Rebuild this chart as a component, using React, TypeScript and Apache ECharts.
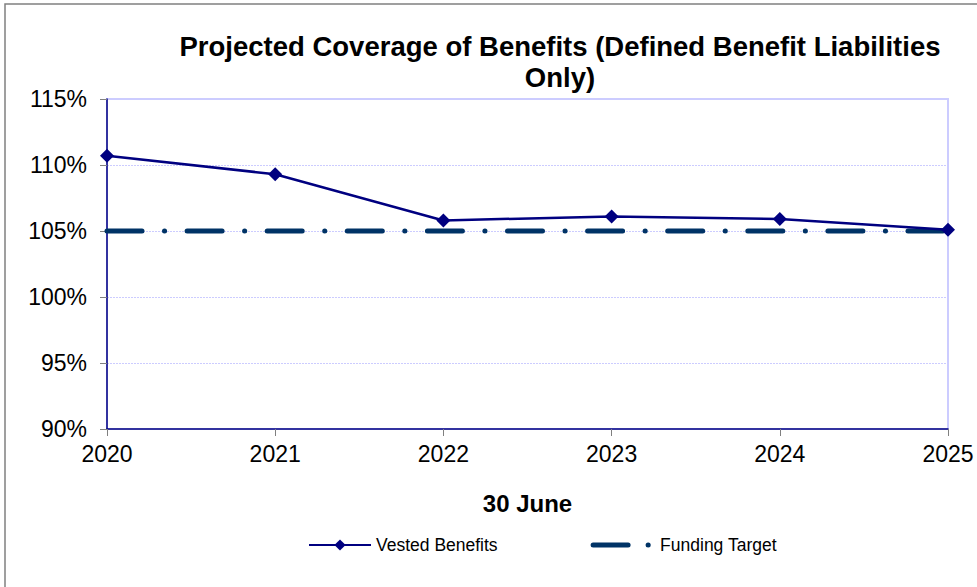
import React, { useEffect, useRef } from "react";
import * as echarts from "echarts";

const years = ["2020", "2021", "2022", "2023", "2024", "2025"];
const vestedBenefits = [110.7, 109.3, 105.8, 106.1, 105.9, 105.1];
const fundingTarget = [105, 105, 105, 105, 105, 105];
const yTicks = { min: 90, max: 115, interval: 5 };

const FONT = "'Liberation Sans', Arial, sans-serif";

export default function App() {
  const ref = useRef<HTMLDivElement>(null);
  useEffect(() => {
    document.body.style.margin = "0";
    const chart = echarts.init(ref.current!, null, { renderer: "svg" });
    chart.setOption({
      animation: false,
      backgroundColor: "#ffffff",
      textStyle: { fontFamily: FONT },
      title: {
        text: "Projected Coverage of Benefits (Defined Benefit Liabilities\nOnly)",
        left: 560,
        top: 31,
        padding: 0,
        textAlign: "center",
        textStyle: {
          fontFamily: FONT,
          fontSize: 27.5,
          fontWeight: "bold",
          color: "#000",
          lineHeight: 31,
          align: "center",
        },
      },
      graphic: [
        {
          type: "rect",
          shape: { x: 5, y: 4, width: 1000, height: 1000 },
          style: { fill: "none", stroke: "#808080", lineWidth: 1.5 },
          z: 100,
          silent: true,
        },
      ],
      grid: { left: 107, right: 29, top: 99, bottom: 158, show: true, borderColor: "#ccccff", borderWidth: 2, backgroundColor: "transparent" },
      legend: {
        left: 303,
        top: 531,
        itemWidth: 62,
        itemHeight: 14,
        itemGap: 93,
        textStyle: { fontFamily: FONT, fontSize: 17.5, color: "#000" },
        data: [
          { name: "Vested Benefits" },
          {
            name: "Funding Target",
            itemStyle: { opacity: 0 },
            lineStyle: { width: 5, color: "#003366", type: [35, 20, 0.1, 20], cap: "round" },
          },
        ],
      },
      xAxis: {
        type: "category",
        data: years,
        boundaryGap: false,
        name: "30 June",
        nameLocation: "middle",
        nameGap: 62,
        nameTextStyle: { fontFamily: FONT, fontSize: 24, fontWeight: "bold", color: "#000" },
        axisLine: { lineStyle: { color: "#000080", width: 1.5 } },
        axisTick: { show: true, length: 7, inside: false, lineStyle: { color: "#808080" } },
        axisLabel: { fontFamily: FONT, fontSize: 23, color: "#000", margin: 13 },
        splitLine: { show: false },
      },
      yAxis: {
        type: "value",
        min: yTicks.min,
        max: yTicks.max,
        interval: yTicks.interval,
        axisLine: { show: true, lineStyle: { color: "#000080", width: 1.5 } },
        axisTick: { show: true, length: 7, lineStyle: { color: "#808080" } },
        axisLabel: { fontFamily: FONT, fontSize: 23, color: "#000", margin: 20, formatter: "{value}%" },
        splitLine: { show: true, lineStyle: { color: "#ccccff", type: [2, 1], width: 1 } },
      },
      series: [
        {
          name: "Funding Target",
          type: "line",
          data: fundingTarget,
          symbol: "none",
          lineStyle: { color: "#003366", width: 5, type: [35, 22.5, 0.1, 22.5], cap: "round" },
          itemStyle: { color: "#003366" },
          z: 2,
        },
        {
          name: "Vested Benefits",
          type: "line",
          data: vestedBenefits,
          symbol: "diamond",
          symbolSize: 14,
          lineStyle: { color: "#000080", width: 2.5 },
          itemStyle: { color: "#000080" },
          z: 3,
        },
      ],
    });
    return () => chart.dispose();
  }, []);
  return <div ref={ref} style={{ position: "absolute", left: 0, top: 0, width: 977, height: 587 }} />;
}
